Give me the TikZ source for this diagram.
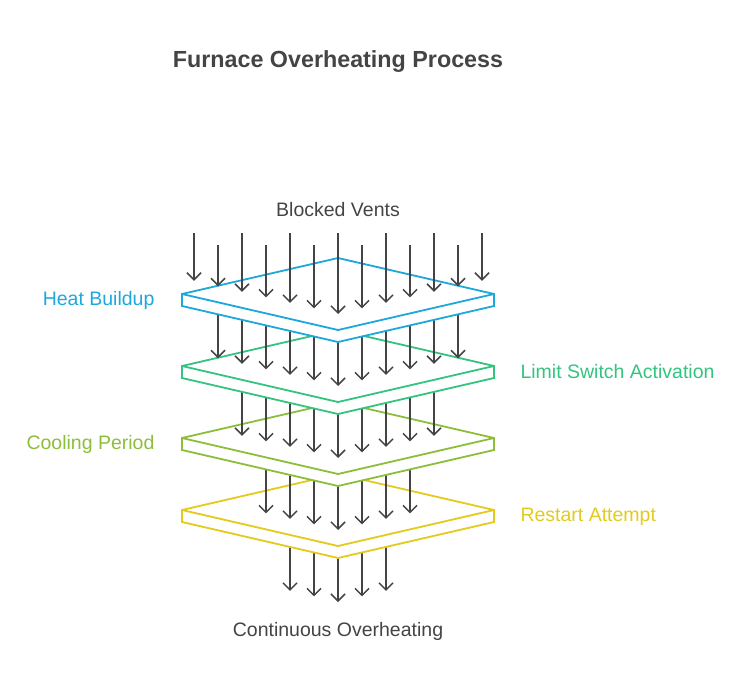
\documentclass[tikz,border=0pt]{standalone}
\usepackage{fontspec}
\setmainfont{Liberation Sans}
\usetikzlibrary{arrows.meta}
\definecolor{txt}{HTML}{444444}
\definecolor{cblue}{HTML}{1DA8DC}
\definecolor{cgreen}{HTML}{33C47F}
\definecolor{colive}{HTML}{8DBE3A}
\definecolor{cyel}{HTML}{E2CB1C}
\begin{document}
\begin{tikzpicture}[x=1pt,y=-1pt,
  arr/.style={draw=txt,line width=1.5pt,-{Straight Barb[length=7pt,width=14pt,line width=1.5pt]}},
  plate/.style={line width=1.8pt,line join=miter,fill=white},
  lbl/.style={font=\fontsize{19.5}{23}\selectfont,text=txt},
  hd/.style={font=\fontsize{23.3}{27}\selectfont\bfseries,text=txt}]
\useasboundingbox (0,0) rectangle (750,690);
\newcommand{\myplate}[2]{%
  \draw[plate,draw=#2] (182,#1) -- (338,#1-36) -- (494,#1) -- (494,#1+12) -- (338,#1+48) -- (182,#1+12) -- cycle;
  \draw[line width=1.8pt,draw=#2] (182,#1) -- (338,#1+36) -- (494,#1);}
\newcommand{\myarrows}[3]{%
  \foreach \i in {-#3,...,#3}{%
    \pgfmathsetmacro{\dx}{24*\i}
    \pgfmathsetmacro{\ys}{#1+12+36*(1-abs(\dx)/156)}
    \pgfmathsetmacro{\ye}{#2+36*(1-abs(\dx)/156)-16}
    \draw[arr] (338+\dx,\ys) -- (338+\dx,\ye);}}
\foreach \i in {-2,...,2}{
  \pgfmathsetmacro{\dx}{24*\i}
  \pgfmathsetmacro{\ys}{510+12+36*(1-abs(\dx)/156)}
  \pgfmathsetmacro{\ye}{602-0.23*abs(\dx)}
  \draw[arr] (338+\dx,\ys) -- (338+\dx,\ye);}
\myplate{510}{cyel}
\myarrows{438}{510}{3}
\myplate{438}{colive}
\myarrows{366}{438}{4}
\myplate{366}{cgreen}
\myarrows{294}{366}{5}
\myplate{294}{cblue}
\foreach \i in {-6,...,6}{
  \pgfmathsetmacro{\dx}{24*\i}
  \pgfmathsetmacro{\ys}{iseven(\i) ? 233 : 245}
  \pgfmathsetmacro{\ye}{294+36*(1-abs(\dx)/156)-16}
  \draw[arr] (338+\dx,\ys) -- (338+\dx,\ye);}
\node[hd] (title) at (338,62) {Furnace Overheating Process};
\node[lbl] (bv) at (338,210) {Blocked Vents};
\node[lbl,text=cblue,anchor=east] (hb) at (158,300) {Heat Buildup};
\node[lbl,text=cgreen,anchor=west] (ls) at (517,372) {Limit Switch Activation};
\node[lbl,text=colive,anchor=east] (cp) at (158,444) {Cooling Period};
\node[lbl,text=cyel,anchor=west] (ra) at (517,517) {Restart Attempt};
\node[lbl] (co) at (338,631) {Continuous Overheating};
\end{tikzpicture}
\end{document}
